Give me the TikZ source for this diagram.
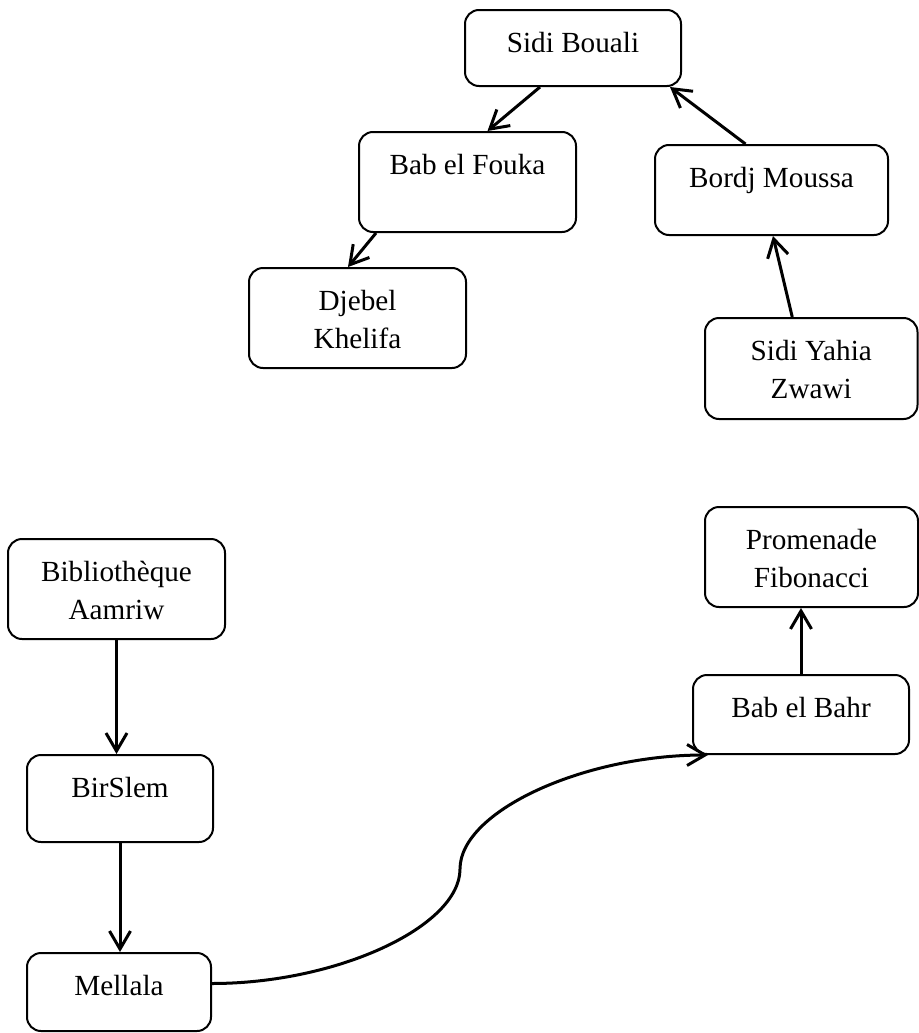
\documentclass[tikz,border=0pt]{standalone}
\usepackage{fontspec}
\setmainfont{Liberation Serif}
\usetikzlibrary{arrows.meta}

\begin{document}
\begin{tikzpicture}[x=0.5pt,y=-0.5pt,line width=1.5pt,>={Straight Barb[length=9pt,width=10.5pt]},
	place/.style={draw,line width=1pt,rounded corners=7pt,inner sep=0pt,text height=21pt,font=\fontsize{14.6}{19}\selectfont}]
	\useasboundingbox (0,0) rectangle (919,1033);
	\node[place,minimum width=108pt,text depth=17pt] (bouali) at (573,48) {Sidi Bouali};
	\node[place,minimum width=108.5pt,text depth=29pt] (fouka) at (467.5,182) {Bab el Fouka};
	\node[place,minimum width=116.5pt,text depth=24pt] (bordj) at (771.5,190) {Bordj Moussa};
	\node[place,minimum width=108.5pt,text depth=29pt] (djebel) at (357.5,318) {\begin{tabular}[t]{@{}c@{}}Djebel\\Khelifa\end{tabular}};
	\node[place,minimum width=106.25pt,text depth=29.5pt] (yahia) at (811.25,368.5) {\begin{tabular}[t]{@{}c@{}}Sidi Yahia\\Zwawi\end{tabular}};
	\node[place,minimum width=108.5pt,text depth=29pt] (biblio) at (116.5,589) {\begin{tabular}[t]{@{}c@{}}Bibliothèque\\Aamriw\end{tabular}};
	\node[place,minimum width=106.5pt,text depth=29pt] (promenade) at (811.5,557) {\begin{tabular}[t]{@{}c@{}}Promenade\\Fibonacci\end{tabular}};
	\node[place,minimum width=108pt,text depth=18.5pt] (bahr) at (801,714.5) {Bab el Bahr};
	\node[place,minimum width=93pt,text depth=22.5pt] (birslem) at (120,798.5) {BirSlem};
	\node[place,minimum width=92pt,text depth=18pt] (mellala) at (119,992) {Mellala};
	\coordinate (bend) at (460,869);
	\path[->] ([xshift=-16.5pt]bouali.south) edge ([xshift=10pt]fouka.north)
		([xshift=-13pt]bordj.north) edge ([xshift=48.5pt]bouali.south)
		([xshift=-45.75pt]fouka.south) edge ([xshift=-4.75pt]djebel.north)
		([xshift=-9.5pt]yahia.north) edge ([xshift=0.75pt]bordj.south)
		(biblio.south) edge (biblio.south |- birslem.north)
		(birslem.south) edge (birslem.south |- mellala.north)
		(bahr.north) edge (bahr.north |- promenade.south);
	\draw[->] ([yshift=4.25pt]mellala.east) .. controls +(125,0) and +(0,57.5) .. (bend)
		.. controls +(0,-57.5) and +(-125,0) .. ([xshift=8pt]bahr.south west);
\end{tikzpicture}
\end{document}
